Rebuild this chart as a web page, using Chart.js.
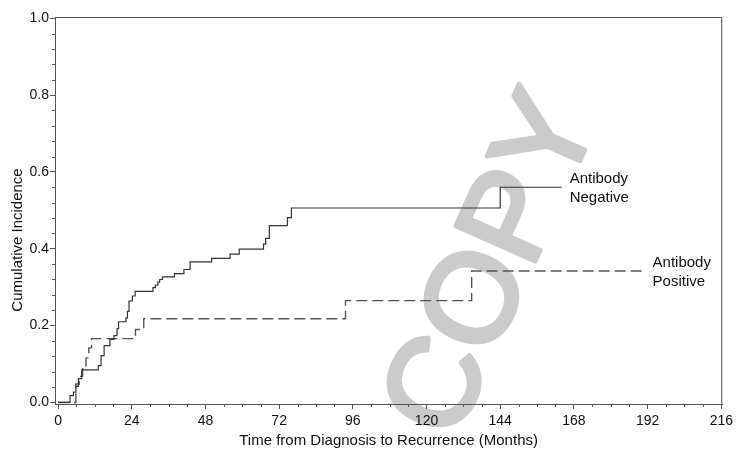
<!DOCTYPE html>
<html>
<head>
<meta charset="utf-8">
<script src="https://cdn.jsdelivr.net/npm/chart.js@4"></script>
<style>
  body { margin: 0; background: #fff; }
</style>
</head>
<body>
<canvas id="myChart" width="737" height="450"></canvas>
<script>
// step times (months) and cumulative incidence
var negTime = [0, 3.9, 5.0, 5.8, 6.6, 7.7, 13.1, 14.0, 15.0, 16.9, 18.2, 19.2, 19.7, 22.1, 22.6, 23.1, 24.2, 25.1,
               30.9, 31.7, 32.5, 33.1, 34.0, 37.9, 41.0, 43.0, 50.0, 56.0, 59.0, 66.9, 67.6, 68.8, 74.7, 76.0, 144, 164];
var negCI   = [0, 0.018, 0.027, 0.042, 0.062, 0.085, 0.096, 0.122, 0.148, 0.164, 0.174, 0.192, 0.21, 0.22, 0.237, 0.264, 0.277, 0.289,
               0.299, 0.305, 0.313, 0.32, 0.327, 0.335, 0.346, 0.366, 0.375, 0.386, 0.399, 0.412, 0.427, 0.46, 0.481, 0.506, 0.56, 0.56];

var posTime = [0, 5.8, 6.9, 8.0, 9.1, 10.0, 10.9, 25.2, 27.9, 93.6, 134.7, 191];
var posCI   = [0, 0.048, 0.068, 0.092, 0.116, 0.142, 0.166, 0.19, 0.218, 0.265, 0.342, 0.342];

var seriesNames = [['Antibody', 'Negative'], ['Antibody', 'Positive']];
var xTickValues = [0, 24, 48, 72, 96, 120, 144, 168, 192, 216];
var yTickValues = [0, 0.2, 0.4, 0.6, 0.8, 1.0];
var xTitle = 'Time from Diagnosis to Recurrence (Months)';
var yTitle = 'Cumulative Incidence';

function toPoints(t, v) {
  return t.map(function (x, i) { return { x: x, y: v[i] }; });
}

var font = '"Liberation Sans", Arial, sans-serif';

// frame, minor ticks, y title, end labels, watermark
var extras = {
  id: 'extras',
  beforeDraw: function (chart) {
    var c = chart.ctx;
    c.save();
    c.fillStyle = '#fff';
    c.fillRect(0, 0, chart.width, chart.height);
    c.translate(495, 266);
    c.rotate(-66 * Math.PI / 180);
    c.fillStyle = '#cbcbcb';
    c.strokeStyle = '#cbcbcb';
    c.lineWidth = 5;
    c.lineJoin = 'round';
    c.font = '126px ' + font;
    c.textAlign = 'center';
    c.textBaseline = 'middle';
    c.fillText('COPY', 0, 0);
    c.strokeText('COPY', 0, 0);
    c.restore();
  },
  afterDraw: function (chart) {
    var c = chart.ctx, a = chart.chartArea;
    var xs = chart.scales.x, ys = chart.scales.y;
    c.save();
    c.strokeStyle = '#555';
    c.lineWidth = 1;
    c.strokeRect(a.left + 0.5, a.top + 0.5, a.right - a.left - 1, a.bottom - a.top);

    c.beginPath();
    for (var v = 6; v < 216; v += 6) {
      if (v % 24 === 0) continue;
      var px = Math.round(xs.getPixelForValue(v)) + 0.5;
      c.moveTo(px, a.bottom);
      c.lineTo(px, a.bottom + 3);
    }
    for (var k = 1; k < 25; k++) {
      if (k % 5 === 0) continue;
      var py = Math.round(ys.getPixelForValue(k * 0.04)) + 0.5;
      c.moveTo(a.left - 3, py);
      c.lineTo(a.left, py);
    }
    c.stroke();

    c.fillStyle = '#111';
    c.font = '15px ' + font;
    c.textBaseline = 'middle';
    c.textAlign = 'left';
    var ends = [[negTime, negCI], [posTime, posCI]];
    ends.forEach(function (e, i) {
      var n = e[0].length - 1;
      var lx = xs.getPixelForValue(e[0][n]) + 8;
      var ly = ys.getPixelForValue(e[1][n]);
      c.fillText(seriesNames[i][0], lx, ly - 8);
      c.fillText(seriesNames[i][1], lx, ly + 11);
    });

    c.translate(18, 240);
    c.rotate(-Math.PI / 2);
    c.textAlign = 'center';
    c.fillText(yTitle, 0, 0);
    c.restore();
  }
};

var ctx = document.getElementById('myChart');
var myChart = new Chart(ctx, {
  type: 'line',
  data: {
    datasets: [{
      label: 'Antibody Negative',
      data: toPoints(negTime, negCI),
      stepped: 'before',
      borderColor: '#333',
      borderWidth: 1.2,
      pointRadius: 0,
      fill: false
    }, {
      label: 'Antibody Positive',
      data: toPoints(posTime, posCI),
      stepped: 'before',
      borderColor: '#555',
      borderWidth: 1.4,
      borderDash: [11, 5],
      pointRadius: 0,
      fill: false
    }]
  },
  options: {
    responsive: false,
    animation: false,
    layout: { padding: { top: 17, right: 12, left: 0, bottom: 0 } },
    plugins: { legend: { display: false }, tooltip: { enabled: false } },
    scales: {
      x: {
        type: 'linear',
        min: -1,
        max: 216.3,
        afterBuildTicks: function (s) { s.ticks = xTickValues.map(function (v) { return { value: v }; }); },
        afterFit: function (s) { s.height = 46; },
        grid: { drawOnChartArea: false, tickLength: 5, tickColor: '#555' },
        border: { color: '#555' },
        ticks: { padding: 4, color: '#111', font: { family: font, size: 14 }, maxRotation: 0, autoSkip: false },
        title: { display: true, text: xTitle, color: '#111', font: { family: font, size: 15 }, padding: { top: 1, bottom: 0 } }
      },
      y: {
        min: -0.004,
        max: 1.003,
        afterBuildTicks: function (s) { s.ticks = yTickValues.map(function (v) { return { value: v }; }); },
        afterFit: function (s) { s.width = 55; },
        grid: { drawOnChartArea: false, tickLength: 5, tickColor: '#555' },
        border: { color: '#555' },
        ticks: {
          padding: 1, color: '#111', font: { family: font, size: 14 },
          callback: function (v) { return v.toFixed(1); }
        }
      }
    }
  },
  plugins: [extras]
});
</script>
</body>
</html>
